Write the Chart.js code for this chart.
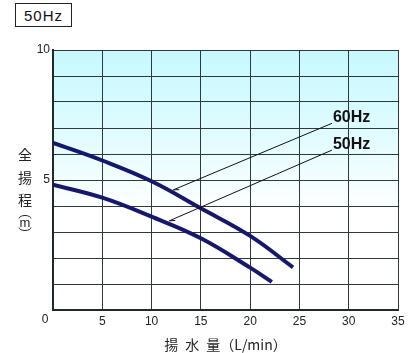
<!DOCTYPE html>
<html>
<head>
<meta charset="utf-8">
<script src="https://cdn.jsdelivr.net/npm/chart.js@4/dist/chart.umd.min.js"></script>
<style>
  html, body { margin: 0; padding: 0; background: #ffffff; }
  #wrap { position: relative; width: 414px; height: 353px; }
  #freq { position: absolute; left: 15px; top: 3px; width: 55px; height: 22px; border: 1px solid #222;
          font: 15px "Liberation Sans", Arial, sans-serif; letter-spacing: 1px; color: #111;
          display: flex; align-items: center; justify-content: center; background: #fff; }
</style>
</head>
<body>
<div id="wrap">
  <canvas id="c" width="414" height="353"></canvas>
  <div id="freq">50Hz</div>
</div>
<script>
// ---- data ----
const xTicks = [0, 5, 10, 15, 20, 25, 30, 35];
const yLabelTicks = [5, 10];
const flow60 = [0, 5, 10, 15, 20, 24.35];
const head60 = [6.43, 5.75, 4.95, 3.91, 2.85, 1.64];
const flow50 = [0, 5, 10, 15, 20, 22.2];
const head50 = [4.82, 4.32, 3.59, 2.76, 1.63, 1.08];
const seriesNames = ['60Hz', '50Hz'];
// leader lines (data coordinates): label anchor -> arrow tip
const leaderFrom = [[28.3, 7.18], [28.3, 6.15]];
const leaderTo = [[12.2, 4.62], [11.8, 3.43]];
const xTitle = '揚\u2002水\u2002量（L/min）';
const yTitleChars = ['全', '揚', '程'];
const yUnit = 'm';

const LATIN = '"Liberation Sans", Arial, "Noto Sans CJK JP", sans-serif';
const CJK = '"Noto Sans CJK JP", "Liberation Sans", sans-serif';
const lineColor = '#16186b';

function pts(xs, ys) { return xs.map((x, i) => ({ x: x, y: ys[i] })); }

const decor = {
  id: 'decor',
  beforeDraw(chart) {
    const { ctx, chartArea: a } = chart;
    const ys = chart.scales.y;
    const g = ctx.createLinearGradient(0, a.top, 0, ys.getPixelForValue(3.8));
    g.addColorStop(0, '#c6f9ff');
    g.addColorStop(0.45, '#dcfbff');
    g.addColorStop(1, '#ffffff');
    ctx.save();
    ctx.fillStyle = g;
    ctx.fillRect(a.left, a.top, a.right - a.left, a.bottom - a.top);
    ctx.restore();
  },
  afterDatasetsDraw(chart) {
    const { ctx } = chart;
    const xs = chart.scales.x, ys = chart.scales.y;
    ctx.save();
    ctx.strokeStyle = '#111';
    ctx.lineWidth = 1;
    for (let i = 0; i < leaderFrom.length; i++) {
      const x1 = xs.getPixelForValue(leaderFrom[i][0]), y1 = ys.getPixelForValue(leaderFrom[i][1]);
      const x2 = xs.getPixelForValue(leaderTo[i][0]), y2 = ys.getPixelForValue(leaderTo[i][1]);
      ctx.beginPath(); ctx.moveTo(x1, y1); ctx.lineTo(x2, y2); ctx.stroke();
      const ang = Math.atan2(y1 - y2, x1 - x2);
      ctx.beginPath();
      ctx.moveTo(x2 + 6 * Math.cos(ang + 0.35), y2 + 6 * Math.sin(ang + 0.35));
      ctx.lineTo(x2, y2);
      ctx.stroke();
      ctx.fillStyle = '#111';
      ctx.font = 'bold 16px ' + LATIN;
      ctx.textAlign = 'left';
      ctx.textBaseline = 'middle';
      ctx.fillText(seriesNames[i], x1 + 1, y1 - 6);
    }
    ctx.restore();
  },
  afterDraw(chart) {
    const { ctx } = chart;
    const xs = chart.scales.x, ys = chart.scales.y;
    ctx.save();
    ctx.fillStyle = '#222';
    ctx.textAlign = 'center';
    ctx.textBaseline = 'middle';
    // origin label
    ctx.font = '12px ' + LATIN;
    ctx.fillText('0', xs.getPixelForValue(0) - 8, ys.getPixelForValue(0) + 10);
    // vertical y title
    ctx.font = '14px ' + CJK;
    const cx = 25;
    let y = 155;
    yTitleChars.forEach(ch => { ctx.fillText(ch, cx, y); y += 22.5; });
    ctx.font = '13px ' + LATIN;
    ctx.fillText(yUnit, cx, y + 0.5);
    ctx.beginPath();
    ctx.lineWidth = 1;
    ctx.strokeStyle = '#222';
    ctx.ellipse(cx, y - 4, 6, 3, 0, Math.PI, 2 * Math.PI);
    ctx.stroke();
    ctx.beginPath();
    ctx.ellipse(cx, y + 5, 6, 3, 0, 0, Math.PI);
    ctx.stroke();
    ctx.restore();
  }
};

new Chart(document.getElementById('c'), {
  type: 'scatter',
  data: {
    datasets: [
      { label: seriesNames[0], data: pts(flow60, head60), showLine: true, borderColor: lineColor,
        borderWidth: 4, pointRadius: 0, tension: 0.4, fill: false },
      { label: seriesNames[1], data: pts(flow50, head50), showLine: true, borderColor: lineColor,
        borderWidth: 4, pointRadius: 0, tension: 0.4, fill: false }
    ]
  },
  options: {
    responsive: false,
    animation: false,
    layout: { padding: { left: 0, right: 16, top: 50, bottom: 0 } },
    plugins: { legend: { display: false }, tooltip: { enabled: false }, title: { display: false } },
    scales: {
      x: {
        type: 'linear', min: 0, max: 35,
        afterBuildTicks(s) { s.ticks = xTicks.map(v => ({ value: v })); },
        afterFit(s) { s.height = 43; },
        ticks: { font: { size: 12, family: LATIN }, color: '#222', padding: 4,
                 callback: v => (v === 0 ? '' : String(v)), maxRotation: 0 },
        grid: { color: '#2e3a3a', lineWidth: 1, drawTicks: false },
        border: { color: '#1f2a2a', width: 2 },
        title: { display: true, text: xTitle, font: { size: 14, family: CJK }, color: '#222', padding: { top: 3, bottom: 0 } }
      },
      y: {
        type: 'linear', min: 0, max: 10,
        ticks: { stepSize: 1, font: { size: 12, family: LATIN }, color: '#222', padding: 3,
                 callback: v => (yLabelTicks.includes(v) ? String(v) : '') },
        afterFit(s) { s.width = 53; },
        grid: { color: '#2e3a3a', lineWidth: 1, drawTicks: false },
        border: { color: '#1f2a2a', width: 2 }
      }
    }
  },
  plugins: [decor]
});
</script>
</body>
</html>
